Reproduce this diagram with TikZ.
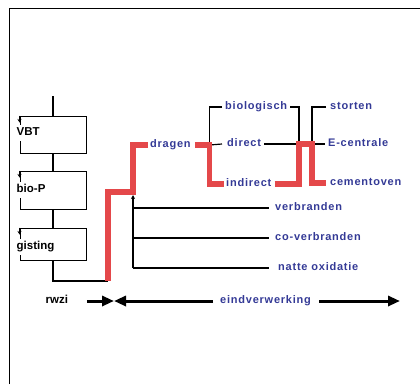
\documentclass[tikz,border=0pt]{standalone}
\usepackage{fontspec}
\setmainfont{Liberation Sans}
\newfontfamily\lblfont[LetterSpace=7]{Liberation Sans}
\usetikzlibrary{arrows.meta}
\definecolor{lblue}{RGB}{52,58,150}
\definecolor{hred}{RGB}{228,72,74}
\begin{document}
\begin{tikzpicture}[x=1pt,y=-1pt,
  lbl/.style={font=\lblfont\bfseries\fontsize{11}{13}\selectfont, text=lblue, anchor=west, inner sep=0pt, text height=8pt, text depth=2.5pt},
  blk/.style={font=\bfseries\fontsize{11.5}{13}\selectfont, anchor=west, inner xsep=0.5pt, inner ysep=2.5pt, fill=white, text height=8pt, text depth=2.5pt},
  procbox/.style={draw, line width=1pt, minimum width=66pt, inner sep=0pt},
  conn/.style={line width=1.2pt},
  hl/.style={hred, line width=5.5pt},
  bigarrow/.style={line width=3pt, -{Triangle[length=12pt,width=10pt]}}]
\useasboundingbox (0,0) rectangle (420,384);
% frame
\draw[line width=1pt] (9,384) -- (9,8) -- (420,8);
% process boxes
\coordinate (top) at (53,96);
\node[procbox, minimum height=37pt] (vbox) at (53,134.5) {};
\node[procbox, minimum height=38pt] (bbox) at (53,190) {};
\node[procbox, minimum height=32pt] (gbox) at (53,244) {};
\node[blk] (vbt) at (16,133) {VBT};
\node[blk] (biop) at (16,190) {bio-P};
\node[blk] (gist) at (16,247) {gisting};
\foreach \b in {vbox,bbox,gbox}
  \draw[conn,-{Stealth[length=3.5pt,width=4pt]}] (\b.north west) -- ++(0,7);
\draw[conn] (top) -- (vbox.north);
\draw[conn] (vbox.south) -- (bbox.north);
\draw[conn] (bbox.south) -- (gbox.north);
\coordinate (r0) at (108,281);
\draw[conn] (gbox.south) |- (r0);
% labels
\node[lbl] (dragen) at (150,145) {dragen};
\node[lbl] (bio) at (225,107) {biologisch};
\node[lbl] (direct) at (227,144) {direct};
\node[lbl] (indirect) at (226,184) {indirect};
\node[lbl] (storten) at (330,107) {storten};
\node[lbl] (ecentrale) at (328,144) {E-centrale};
\node[lbl] (cement) at (330,183) {cementoven};
\node[lbl] (verbr) at (275,208) {verbranden};
\node[lbl] (cover) at (275,238) {co-verbranden};
\node[lbl] (natte) at (278,268) {natte oxidatie};
\node[lbl] (eind) at (220,301) {eindverwerking};
\node[blk] (rwzi) at (45,301) {rwzi};
% junctions
\coordinate (rA) at (133,192);
\coordinate (jd) at (209.5,145);
\coordinate (jm) at (299,144);
\coordinate (js) at (312,144);
\coordinate (jbt) at (133,195);
\coordinate (jbb) at (133,268);
% black tree connectors
\draw[conn] ([xshift=-3pt]bio.west) -| (jd);
\draw[conn] (jd) -- ([xshift=-5pt]direct.west);
\draw[conn] ([xshift=3pt]direct.east) -- (jm);
\draw[conn] ([xshift=3pt]bio.east) -| (jm);
\draw[conn] ([xshift=-4pt]storten.west) -| (js);
\draw[conn] (js) -- ([xshift=-3pt]ecentrale.west);
\draw[conn,-{Stealth[length=4pt,width=4pt]}] (jbb) -- (jbt);
\draw[conn] (jbb |- verbr.west) -- ([xshift=-6pt]verbr.west);
\draw[conn] (jbb |- cover.west) -- ([xshift=-6pt]cover.west);
\draw[conn] (jbb) -- ([xshift=-9pt]natte.west);
% red highlighted route
\draw[hl] (r0) |- (rA) |- ([xshift=-2pt]dragen.west);
\draw[hl] ([xshift=4pt]dragen.east) -| (jd) |- ([xshift=-2pt]indirect.west);
\draw[hl] ([xshift=3pt]indirect.east) -| (jm) -- (js) |- ([xshift=-4pt]cement.west);
% bottom arrows
\coordinate (tipc) at (114,301);
\coordinate (rend) at (400,301);
\draw[bigarrow] ([xshift=18pt]rwzi.east) -- (tipc);
\draw[bigarrow] ([xshift=-7pt]eind.west) -- (tipc);
\draw[bigarrow] ([xshift=8pt]eind.east) -- (rend);
\end{tikzpicture}
\end{document}
